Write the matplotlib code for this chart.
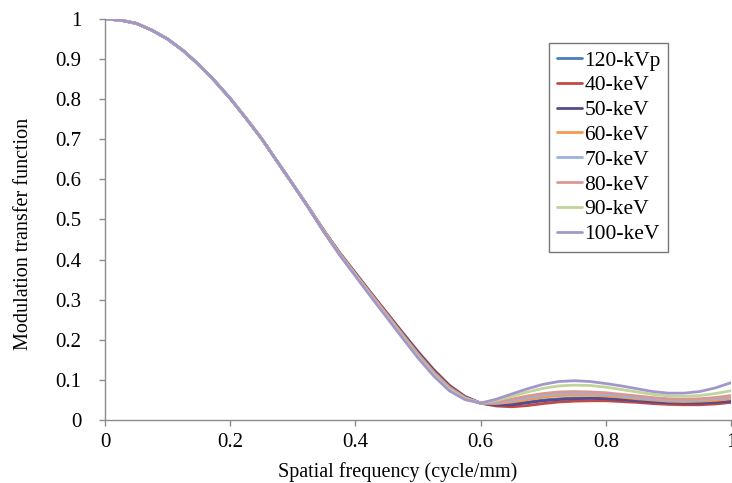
import matplotlib
matplotlib.use("Agg")
import matplotlib.pyplot as plt

# spatial frequency samples (cycle/mm)
freq = [0.000, 0.025, 0.050, 0.075, 0.100, 0.125, 0.150, 0.175, 0.200, 0.225,
        0.250, 0.275, 0.300, 0.325, 0.350, 0.375, 0.400, 0.425, 0.450, 0.475,
        0.500, 0.525, 0.550, 0.575, 0.600, 0.625, 0.650, 0.675, 0.700, 0.725,
        0.750, 0.775, 0.800, 0.825, 0.850, 0.875, 0.900, 0.925, 0.950, 0.975,
        1.000]

# low frequency part is the same for every spectrum
mtf_head = [1.000, 0.997, 0.989, 0.972, 0.950, 0.921, 0.886, 0.846, 0.802,
            0.753, 0.702, 0.645, 0.588]

mtf_120kvp = mtf_head + [0.530, 0.471, 0.415, 0.365, 0.314, 0.265, 0.215, 0.167,
                         0.122, 0.083, 0.057, 0.042,
                         0.038, 0.040, 0.045, 0.050, 0.053, 0.055, 0.055, 0.054,
                         0.051, 0.048, 0.045, 0.042, 0.041, 0.041, 0.042, 0.044]
mtf_40kev = mtf_head + [0.531, 0.472, 0.417, 0.367, 0.317, 0.268, 0.219, 0.171,
                        0.126, 0.087, 0.059, 0.042,
                        0.035, 0.033, 0.036, 0.041, 0.045, 0.047, 0.048, 0.048,
                        0.046, 0.044, 0.041, 0.039, 0.038, 0.038, 0.040, 0.044]
mtf_50kev = mtf_head + [0.531, 0.471, 0.416, 0.366, 0.316, 0.266, 0.217, 0.169,
                        0.124, 0.085, 0.058, 0.042,
                        0.037, 0.038, 0.043, 0.048, 0.051, 0.053, 0.054, 0.053,
                        0.051, 0.048, 0.045, 0.043, 0.042, 0.042, 0.044, 0.047]
mtf_60kev = mtf_head + [0.530, 0.471, 0.415, 0.364, 0.314, 0.264, 0.214, 0.165,
                        0.120, 0.082, 0.056, 0.042,
                        0.041, 0.045, 0.051, 0.057, 0.061, 0.062, 0.062, 0.060,
                        0.057, 0.053, 0.050, 0.047, 0.046, 0.047, 0.049, 0.053]
mtf_70kev = mtf_head + [0.530, 0.470, 0.414, 0.363, 0.312, 0.262, 0.212, 0.163,
                        0.118, 0.080, 0.055, 0.042,
                        0.043, 0.049, 0.056, 0.062, 0.066, 0.067, 0.066, 0.064,
                        0.060, 0.056, 0.052, 0.050, 0.049, 0.050, 0.053, 0.057]
mtf_80kev = mtf_head + [0.530, 0.469, 0.413, 0.362, 0.311, 0.260, 0.210, 0.161,
                        0.116, 0.078, 0.054, 0.042,
                        0.045, 0.052, 0.060, 0.066, 0.070, 0.071, 0.070, 0.068,
                        0.064, 0.060, 0.056, 0.053, 0.052, 0.053, 0.056, 0.061]
mtf_90kev = mtf_head + [0.529, 0.469, 0.412, 0.361, 0.309, 0.258, 0.208, 0.158,
                        0.113, 0.076, 0.053, 0.042,
                        0.049, 0.059, 0.070, 0.079, 0.085, 0.087, 0.086, 0.082,
                        0.076, 0.070, 0.064, 0.060, 0.059, 0.061, 0.066, 0.073]
mtf_100kev = mtf_head + [0.529, 0.468, 0.411, 0.359, 0.307, 0.256, 0.205, 0.155,
                         0.110, 0.073, 0.051, 0.042,
                         0.052, 0.065, 0.078, 0.089, 0.096, 0.098, 0.096, 0.091,
                         0.085, 0.078, 0.071, 0.067, 0.067, 0.071, 0.080, 0.093]

labels = ["120-kVp", "40-keV", "50-keV", "60-keV", "70-keV", "80-keV",
          "90-keV", "100-keV"]
series = [mtf_120kvp, mtf_40kev, mtf_50kev, mtf_60kev, mtf_70kev, mtf_80kev,
          mtf_90kev, mtf_100kev]
colors = ["#4A7EBB", "#BE4B48", "#584A8C", "#F39A52", "#9AB3D8", "#DB9794",
          "#BFD59A", "#A397C9"]

plt.rcParams["font.family"] = ["Liberation Serif", "DejaVu Serif"]

fig = plt.figure(figsize=(7.32, 4.83), dpi=100)
ax = fig.add_axes([0.1434, 0.1304, 0.8552, 0.8303])

for vals, lab, col in zip(series, labels, colors):
    ax.plot(freq, vals, color=col, lw=2.0, label=lab, solid_capstyle="round")

ax.set_xlim(0, 1)
ax.set_ylim(0, 1)
ax.set_xticks([0, 0.2, 0.4, 0.6, 0.8, 1])
ax.set_xticklabels(["0", "0.2", "0.4", "0.6", "0.8", "1"])
ax.set_yticks([i / 10 for i in range(11)])
ax.set_yticklabels(["0"] + ["0.%d" % i for i in range(1, 10)] + ["1"])

for side in ["top", "right"]:
    ax.spines[side].set_visible(False)
for side in ["left", "bottom"]:
    ax.spines[side].set_color("#8C8C8C")
    ax.spines[side].set_linewidth(1.0)
ax.tick_params(axis="both", colors="#8C8C8C", labelcolor="black",
               labelsize=15, length=4, width=1.0, direction="out")
ax.tick_params(axis="y", pad=13)
ax.tick_params(axis="x", pad=5)

ax.set_xlabel("Spatial frequency (cycle/mm)", fontsize=14.5)
ax.set_ylabel("Modulation transfer function", fontsize=14.5)
# the titles sit a little off the plot centre
ax.xaxis.set_label_coords(0.467, -0.104)
ax.yaxis.set_label_coords(-0.115, 0.464)

leg = ax.legend(loc="upper left", bbox_to_anchor=(0.750, 0.911),
                bbox_transform=fig.transFigure, fontsize=15.5, frameon=True,
                fancybox=False, handlelength=1.2, handletextpad=0.1,
                labelspacing=0.22, borderpad=0.35, borderaxespad=0)
leg.get_frame().set_edgecolor("#555555")
leg.get_frame().set_linewidth(1.0)

fig.savefig("out.png", dpi=100)
